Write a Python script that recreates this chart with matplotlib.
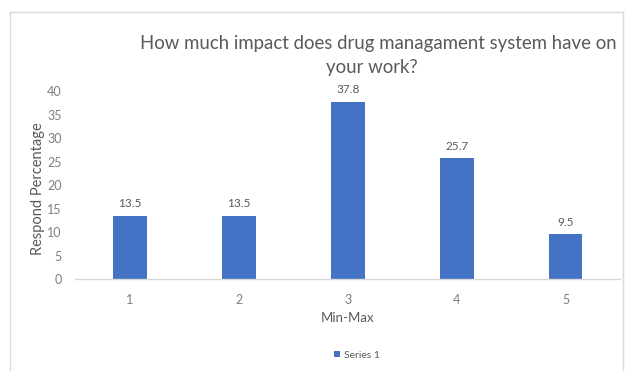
import matplotlib
matplotlib.use("Agg")
import matplotlib.pyplot as plt
from matplotlib.lines import Line2D
from matplotlib.patches import Patch

categories = ["1", "2", "3", "4", "5"]
values = [13.5, 13.5, 37.8, 25.7, 9.5]
y_ticks = [0, 5, 10, 15, 20, 25, 30, 35, 40]
series_name = "Series 1"
title_lines = ["How much impact does drug managament system have on", "your work?"]
x_label = "Min-Max"
y_label = "Respond Percentage"

plt.rcParams["font.family"] = ["Lato", "DejaVu Sans"]

W, H = 627, 371
fig = plt.figure(figsize=(W / 100, H / 100), dpi=100)
fig.patch.set_facecolor("white")

# outer chart border (left, top, right)
border = "#d9d9d9"
fig.add_artist(Line2D([10 / W, 10 / W], [0, 1 - 12 / H], color=border, lw=1.0,
                      transform=fig.transFigure))
fig.add_artist(Line2D([10 / W, 623 / W], [1 - 12 / H, 1 - 12 / H], color=border, lw=1.0,
                      transform=fig.transFigure))
fig.add_artist(Line2D([623 / W, 623 / W], [0, 1 - 12 / H], color=border, lw=1.0,
                      transform=fig.transFigure))

ax = fig.add_axes([75.5 / W, 1 - 279 / H, 544.5 / W, (279 - 91.4) / H])
x = range(len(categories))
bars = ax.bar(x, values, width=0.31, color="#4472C4")

ax.set_xlim(-0.5, len(categories) - 0.5)
ax.set_ylim(0, 40)
ax.set_yticks(y_ticks)
ax.set_xticks(list(x))
ax.set_xticklabels(categories)

for s in ["top", "right", "left"]:
    ax.spines[s].set_visible(False)
ax.spines["bottom"].set_color("#d9d9d9")
ax.spines["bottom"].set_linewidth(1.0)

ax.tick_params(axis="both", length=0, colors="#7f7f7f", labelsize=9)
ax.tick_params(axis="x", pad=11)
ax.tick_params(axis="y", pad=10)

for rect, v in zip(bars, values):
    ax.annotate(f"{v:g}", (rect.get_x() + rect.get_width() / 2, v),
                xytext=(0, 5), textcoords="offset points",
                ha="center", va="bottom", fontsize=8.5, color="#595959")

fig.text(378 / W, 1 - 44 / H, title_lines[0], ha="center", va="center",
         fontsize=13.4, color="#595959")
fig.text(372 / W, 1 - 67 / H, title_lines[1], ha="center", va="center",
         fontsize=13.4, color="#595959")

fig.text(348 / W, 1 - 318 / H, x_label, ha="center", va="center", fontsize=9.5,
         color="#595959")
fig.text(38 / W, 1 - 189 / H, y_label, ha="center", va="center", fontsize=10.5,
         color="#595959", rotation=90)

fig.legend(handles=[Patch(facecolor="#4472C4", label=series_name)],
           loc="center", bbox_to_anchor=(357 / W, 1 - 355 / H),
           frameon=False, fontsize=7.5, handlelength=0.6, handleheight=0.6,
           handletextpad=0.4, labelcolor="#595959")

fig.savefig("out.png", dpi=100, facecolor="white")
